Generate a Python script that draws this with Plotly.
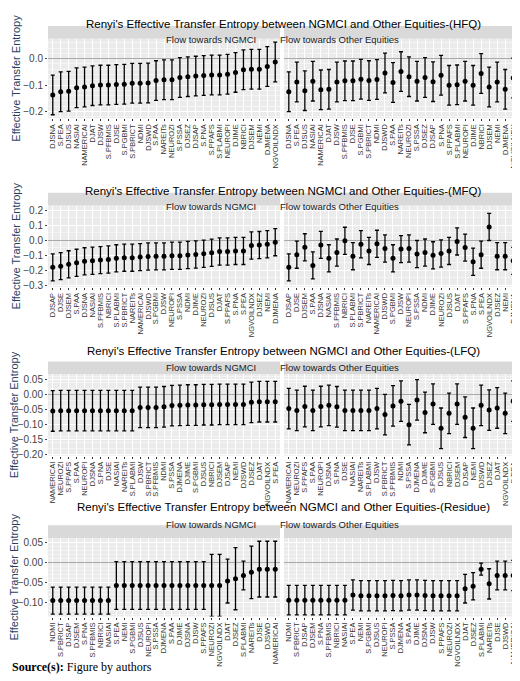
import plotly.graph_objects as go
from plotly.subplots import make_subplots

# --- HFQ ---
hfq_cats = ["DJSNA", "S.PEA", "DJSUS", "NASIAI", "NAMERICAI", "DJAT", "DJSW", "S.PFBMIS", "DJSE",
            "S.PGBMI", "S.PBRICT", "NDMI", "DJSWD", "S.PAA", "NAREITs", "NEUROZI", "S.PSSA", "DJSEZ",
            "DJSAP", "S.PNA", "S.PPAFS", "S.PLABMI", "NEUROPI", "DJIME", "NBRICI", "DJSEM", "NEMI",
            "DJMENA", "NGVOILNDX"]
hfq_to_ngmci = [-0.137, -0.125, -0.123, -0.11, -0.107, -0.102, -0.1, -0.1, -0.098, -0.097, -0.093,
                -0.093, -0.092, -0.083, -0.08, -0.08, -0.071, -0.068, -0.066, -0.064, -0.062, -0.062,
                -0.059, -0.052, -0.042, -0.04, -0.04, -0.03, -0.013]
hfq_to_other = [-0.125, -0.088, -0.121, -0.085, -0.118, -0.116, -0.088, -0.084, -0.084, -0.078,
                -0.083, -0.079, -0.054, -0.09, -0.049, -0.068, -0.085, -0.071, -0.087, -0.063,
                -0.101, -0.099, -0.085, -0.101, -0.056, -0.107, -0.088, -0.116, -0.073]
hfq_err = [0.075] * 29

# --- MFQ ---
mfq_cats = ["DJSAP", "DJSE", "DJSEM", "S.PAA", "DJSNA", "NASIAI", "S.PFBMIS", "NBRICI", "S.PLABMI",
            "S.PBRICT", "NAREITs", "NAMERICAI", "DJSWD", "S.PGBMI", "DJSW", "NEUROPI", "S.PSSA", "NDMI",
            "DJIME", "NEUROZI", "DJSUS", "DJAT", "S.PPAFS", "S.PNA", "S.PEA", "NGVOILNDX", "DJSEZ",
            "NEMI", "DJMENA"]
mfq_to_ngmci = [-0.18, -0.172, -0.16, -0.15, -0.14, -0.136, -0.132, -0.128, -0.12, -0.116, -0.116,
                -0.112, -0.108, -0.107, -0.107, -0.103, -0.103, -0.098, -0.095, -0.09, -0.083, -0.075,
                -0.075, -0.071, -0.071, -0.035, -0.032, -0.027, -0.013]
mfq_to_other = [-0.18, -0.096, -0.047, -0.167, -0.031, -0.12, -0.082, -0.004, -0.106, -0.027, -0.071,
                -0.024, -0.055, -0.12, -0.059, -0.055, -0.092, -0.082, -0.1, -0.088, -0.071, -0.008,
                -0.049, -0.143, -0.096, 0.088, -0.106, -0.106, -0.137]
mfq_err = [0.09] * 29

# --- LFQ ---
lfq_cats = ["NAMERICAI", "NEUROZI", "S.PPAFS", "S.PAA", "NEUROPI", "DJSNA", "S.PNA", "DJSE", "NASIAI",
            "NAREITs", "S.PLABMI", "DJSW", "S.PBRICT", "S.PFBMIS", "NDMI", "S.PSSA", "DJMENA", "DJIME",
            "S.PGBMI", "DJSUS", "NBRICI", "DJSEM", "DJSAP", "NEMI", "DJSWD", "DJSEZ", "DJAT",
            "NGVOILNDX", "S.PEA"]
lfq_to_ngmci = [-0.055, -0.054, -0.054, -0.054, -0.054, -0.054, -0.054, -0.054, -0.054, -0.054, -0.054,
                -0.043, -0.043, -0.043, -0.041, -0.037, -0.036, -0.035, -0.035, -0.034, -0.034, -0.033,
                -0.033, -0.033, -0.033, -0.026, -0.024, -0.024, -0.024]
lfq_to_other = [-0.047, -0.053, -0.040, -0.053, -0.040, -0.036, -0.041, -0.053, -0.053, -0.053, -0.053,
                -0.047, -0.067, -0.038, -0.022, -0.101, -0.018, -0.06, -0.032, -0.113, -0.063, -0.032,
                -0.076, -0.113, -0.036, -0.052, -0.045, -0.063, -0.022]
lfq_err = [0.068] * 29

# --- Residue ---
res_cats = ["NDMI", "S.PBRICT", "DJSAP", "DJSEM", "S.PNA", "S.PFBMIS", "NBRICI", "NASIAI", "S.PEA",
            "NEMI", "S.PGBMI", "DJSUS", "NEUROPI", "S.PSSA", "DJMENA", "S.PAA", "DJIME", "DJSNA",
            "DJSW", "S.PPAFS", "NEUROZI", "NGVOILNDX", "DJAT", "DJSEZ", "S.PLABMI", "NAREITs", "DJSE",
            "DJSWD", "NAMERICAI"]
res_to_ngmci = [-0.095] * 8 + [-0.057] * 14 + [-0.046, -0.04, -0.032, -0.024, -0.016, -0.016, -0.016]
res_to_other = [-0.094] * 8 + [-0.081, -0.083, -0.083, -0.083, -0.083, -0.082, -0.083, -0.081, -0.081,
                               -0.082, -0.083, -0.083, -0.083, -0.083] + \
               [-0.065, -0.059, -0.016, -0.053, -0.032, -0.032, -0.032]
res_err_ngmci = [0.034] * 8 + [0.06] * 12 + [0.078, 0.078, 0.055, 0.078, 0.036, 0.066, 0.07, 0.07, 0.07]
res_err_other = [0.037] * 8 + [0.038] * 14 + [0.036, 0.034, 0.015, 0.038, 0.036, 0.036, 0.038]

panels = [
    ("HFQ", hfq_cats, hfq_to_ngmci, hfq_to_other, hfq_err, hfq_err, [-0.225, 0.075], [-0.2, -0.1, 0.0], ".1f"),
    ("MFQ", mfq_cats, mfq_to_ngmci, mfq_to_other, mfq_err, mfq_err, [-0.31, 0.23], [-0.3, -0.2, -0.1, 0.0, 0.1, 0.2], ".1f"),
    ("LFQ", lfq_cats, lfq_to_ngmci, lfq_to_other, lfq_err, lfq_err, [-0.205, 0.068], [-0.2, -0.15, -0.1, -0.05, 0.0, 0.05], ".2f"),
    ("Residue", res_cats, res_to_ngmci, res_to_other, res_err_ngmci, res_err_other, [-0.135, 0.062], [-0.1, -0.05, 0.0, 0.05], ".2f"),
]

W, H = 520, 681
rows_px = [(30, 110), (198, 280), (368, 450), (533, 612)]
strip_h = 13
left_x = (40, 272)
right_x = (276, 510)

fig = make_subplots(rows=4, cols=2)

for i, (tag, cats, v1, v2, e1, e2, yr, tv, fmt) in enumerate(panels):
    top, bot = rows_px[i]
    yd = [1 - bot / H, 1 - top / H]
    for j, (vals, err, xr) in enumerate([(v1, e1, left_x), (v2, e2, right_x)]):
        fig.add_trace(go.Scatter(
            x=cats, y=vals, mode="markers",
            marker=dict(color="black", size=5),
            error_y=dict(type="data", array=err, color="black", thickness=1.3, width=2),
            showlegend=False), row=i + 1, col=j + 1)
        n = i * 2 + j + 1
        xa = "xaxis" if n == 1 else f"xaxis{n}"
        ya = "yaxis" if n == 1 else f"yaxis{n}"
        fig.layout[xa].update(domain=[xr[0] / W, xr[1] / W], tickangle=-90,
                              tickmode="array", tickvals=cats, ticktext=cats,
                              tickfont=dict(size=7.5, color="#333", family="Liberation Sans"),
                              showgrid=True, gridcolor="white", ticks="outside", ticklen=2, tickcolor="#333",
                              range=[-0.6, len(cats) - 0.4])
        fig.layout[ya].update(domain=yd, range=yr, tickvals=tv, tickformat=fmt, gridcolor="white",
                              showticklabels=(j == 0), ticks="outside" if j == 0 else "", ticklen=2,
                              tickfont=dict(size=10, color="#444", family="Liberation Sans"),
                              zeroline=True, zerolinecolor="#aaaaaa", zerolinewidth=1,
                              minor=dict(showgrid=True, gridcolor="#f4f4f4"))
        if j == 0:
            fig.layout[ya].title = dict(text="Effective Transfer Entropy",
                                        font=dict(size=11, family="Liberation Sans"), standoff=0)
        # facet strip
        fig.add_shape(type="rect", xref="paper", yref="paper",
                      x0=xr[0] / W, x1=xr[1] / W, y0=1 - top / H, y1=1 - (top - strip_h) / H,
                      fillcolor="#d9d9d9", line_width=0, layer="below")
        fig.add_annotation(xref="paper", yref="paper", x=(xr[0] + xr[1]) / 2 / W, y=1 - (top - strip_h / 2) / H,
                           text="Flow towards NGMCI" if j == 0 else "Flow towards Other Equities",
                           showarrow=False, font=dict(size=9.5, color="#1a1a1a", family="Liberation Sans"))
    fig.add_annotation(xref="paper", yref="paper", x=275 / W, y=1 - (top - 23) / H,
                       text=f"Renyi's Effective Transfer Entropy between NGMCI and Other Equities-({tag})",
                       showarrow=False, font=dict(size=11.5, color="black", family="Liberation Sans"))

fig.add_annotation(xref="paper", yref="paper", x=2 / W, y=1 - 672 / H, xanchor="left",
                   text="<b>Source(s):</b> Figure by authors", showarrow=False,
                   font=dict(size=12, family="Liberation Serif", color="black"))

fig.update_layout(width=W, height=H, margin=dict(l=0, r=0, t=0, b=0),
                  plot_bgcolor="#ebebeb", paper_bgcolor="white")

fig.write_html("out.html")
